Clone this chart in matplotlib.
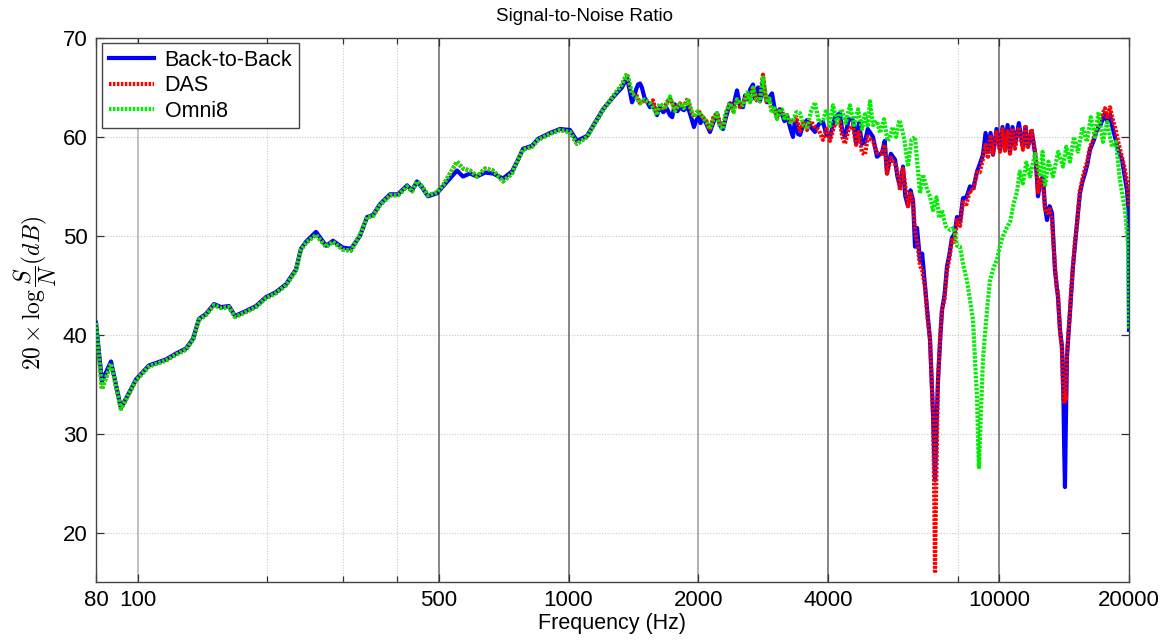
import numpy as np
import matplotlib
matplotlib.use("Agg")
import matplotlib.pyplot as plt

plt.rcParams['font.family'] = ['Liberation Sans', 'DejaVu Sans']
plt.rcParams['mathtext.fontset'] = 'cm'

# ---- low-frequency part (80 Hz - 1.4 kHz), shared frequency grid ----
freq_low = [80, 82.6, 86.7, 91.4, 95.4, 99.1, 106.2, 116.3, 122.7, 129.4, 134.4,
            138.7, 144.0, 150.3, 156.1, 162.9, 168.2, 178.4, 188.1, 198.4, 209.3,
            220.8, 233.0, 239.3, 245.8, 259.3, 273.6, 284.0, 299.6, 312.7, 328.1,
            340.6, 351.6, 365.0, 385.1, 401.9, 421.8, 433.2, 444.9, 456.9, 471.8,
            495.0, 511.2, 550.9, 568.8, 590.6, 613.1, 639.9, 667.8, 704.5, 739.2,
            763.4, 784.0, 822.6, 849.3, 905.7, 955.4, 1007.9, 1046.3, 1103.7,
            1164.4, 1202.3, 1268.2, 1330.7]

snr_low_b2b = [41.2, 35.3, 37.3, 32.6, 34.1, 35.5, 36.9, 37.5, 38.1, 38.6, 39.6,
               41.6, 42.1, 43.1, 42.8, 42.9, 41.9, 42.4, 42.9, 43.8, 44.3,
               45.1, 46.6, 48.7, 49.4, 50.4, 49.0, 49.5, 48.8, 48.7, 50.0,
               51.9, 52.1, 53.2, 54.2, 54.2, 55.1, 54.6, 55.5, 54.9, 54.0,
               54.3, 55.0, 56.6, 56.0, 56.3, 56.0, 56.4, 56.3, 55.8, 56.5,
               57.7, 58.8, 59.1, 59.8, 60.4, 60.8, 60.7, 59.6, 60.1,
               61.8, 62.8, 64.0, 65.0]

snr_low = [41.2, 34.5, 37.1, 32.5, 34.0, 35.4, 36.8, 37.4, 38.0, 38.5, 39.5,
           41.5, 42.0, 43.0, 42.7, 42.8, 41.8, 42.3, 42.8, 43.7, 44.2,
           45.0, 46.5, 48.6, 49.3, 50.1, 48.9, 49.4, 48.6, 48.5, 50.1,
           51.9, 52.0, 53.1, 54.1, 54.1, 55.0, 54.5, 55.5, 55.0, 54.1,
           54.4, 55.1, 57.5, 56.8, 56.6, 56.0, 56.8, 56.6, 55.5, 56.3,
           57.7, 58.7, 59.0, 59.7, 60.3, 60.7, 60.5, 59.3, 60.0,
           61.7, 62.7, 64.1, 65.3]

# ---- Back-to-Back, above 1.35 kHz ----
freq_b2b_high = [1366.8, 1385, 1403.8, 1420, 1435, 1450, 1465.4, 1480, 1500, 1520,
                 1545.6, 1570, 1604.4, 1630.4, 1660, 1690, 1719.7, 1740, 1765, 1790,
                 1813.9, 1850, 1893.2, 1925, 1954.9, 1975, 2000, 2025, 2051.5, 2090,
                 2129.5, 2170, 2211.0, 2245, 2283.0, 2320, 2370.2, 2410, 2460.3, 2500,
                 2540.6, 2570, 2600, 2640, 2680.2, 2705, 2730, 2755, 2782.1, 2805,
                 2827.4, 2860, 2888.6, 2925, 2967.0, 3005, 3047.4, 3090, 3130, 3170,
                 3214.4, 3265, 3319.0, 3350, 3380, 3410, 3445.9, 3510, 3577.1, 3650,
                 3733.6, 3810, 3896.9, 3970, 4045.4, 4150, 4266.6, 4320, 4382.2, 4470,
                 4574.0, 4650, 4720, 4800, 4876.3, 4950, 5090.2, 5200, 5341.2, 5420,
                 5485.8, 5600, 5726.0, 5800, 5881.0, 5976, 6050, 6138, 6220, 6305,
                 6372, 6441, 6545, 6620, 6722, 6800, 6904, 7015, 7091, 7150,
                 7205, 7290, 7361, 7460, 7560, 7650, 7764, 7870, 7974, 8104,
                 8234, 8390, 8549, 8700, 8875, 9000, 9163, 9290, 9411, 9540,
                 9667, 9850, 10036, 10170, 10307, 10450, 10586, 10730, 10873, 11100,
                 11347, 11500, 11655, 11880, 12100, 12200, 12296, 12450, 12628, 12760,
                 12901, 13080, 13250, 13350, 13464, 13580, 13681, 13830, 13977, 14080,
                 14150, 14202, 14280, 14354, 14470, 14586, 14700, 14822, 14980, 15143,
                 15260, 15387, 15600, 15804, 16000, 16234, 16550, 16852, 17200, 17586,
                 17800, 18063, 18300, 18553, 18900, 19262, 19500, 19784, 19950, 20000]
snr_b2b_high = [66.0, 64.8, 63.5, 64.0, 64.8, 65.3, 65.4, 65.0, 64.0, 63.6,
                63.0, 63.3, 62.2, 63.0, 62.5, 62.9, 62.2, 62.0, 63.3, 62.6,
                63.0, 62.7, 63.0, 62.0, 61.0, 61.6, 62.0, 61.4, 62.0, 61.3,
                60.5, 61.5, 62.4, 61.2, 60.8, 62.0, 63.4, 63.0, 64.7, 63.2,
                63.0, 64.2, 63.8, 64.8, 65.3, 63.9, 64.0, 65.0, 63.6, 64.5,
                65.8, 64.3, 63.5, 64.0, 64.4, 63.0, 62.0, 62.8, 62.3, 61.6,
                62.2, 61.0, 60.0, 61.5, 61.5, 60.3, 60.2, 61.3, 61.7, 61.0,
                60.5, 61.3, 61.5, 60.2, 60.0, 62.0, 62.4, 60.6, 60.0, 61.8,
                61.7, 59.4, 61.4, 59.3, 59.5, 60.8, 60.0, 58.0, 58.4, 59.6,
                56.3, 58.3, 57.7, 56.0, 55.0, 57.0, 54.0, 53.0, 54.6, 53.6,
                48.9, 50.8, 47.5, 48.2, 44.9, 42.5, 39.5, 32.0, 25.3, 31.0,
                35.4, 39.5, 42.5, 44.0, 46.9, 48.0, 49.8, 50.2, 51.9, 51.4,
                53.8, 53.9, 55.0, 54.8, 56.5, 57.2, 58.2, 60.4, 58.6, 60.4,
                58.2, 60.8, 58.7, 61.0, 58.8, 61.2, 58.4, 61.0, 59.2, 61.4,
                58.9, 61.0, 59.0, 60.6, 58.4, 56.5, 54.0, 55.5, 56.0, 53.0,
                51.6, 53.0, 52.3, 49.5, 46.5, 45.0, 43.8, 40.5, 38.8, 34.0,
                28.0, 24.6, 32.0, 37.8, 40.0, 42.2, 44.5, 46.9, 49.0, 51.3,
                52.8, 54.3, 55.5, 56.3, 57.2, 58.7, 59.6, 60.7, 61.3, 62.4,
                61.5, 62.3, 61.0, 60.0, 58.6, 57.7, 56.3, 54.6, 52.5, 40.5]

# ---- DAS, above 1.35 kHz ----
freq_das_high = [1366.8, 1385, 1403.8, 1435, 1465.4, 1500, 1545.6, 1570, 1604.4, 1630.4,
                 1660, 1690, 1719.7, 1765, 1813.9, 1850, 1893.2, 1925, 1954.9, 2000,
                 2051.5, 2090, 2129.5, 2170, 2211.0, 2245, 2283.0, 2320, 2370.2, 2410,
                 2460.3, 2500, 2540.6, 2600, 2640, 2680.2, 2730, 2782.1, 2827.4, 2860,
                 2888.6, 2925, 2967.0, 3005, 3047.4, 3090, 3130, 3170, 3214.4, 3265,
                 3319.0, 3380, 3445.9, 3510, 3577.1, 3650, 3733.6, 3810, 3896.9, 3970,
                 4045.4, 4150, 4266.6, 4320, 4382.2, 4470, 4574.0, 4650, 4720, 4800,
                 4876.3, 4950, 5090.2, 5200, 5341.2, 5420, 5485.8, 5600, 5726.0, 5800,
                 5881.0, 5976, 6050, 6138, 6220, 6305, 6372, 6441, 6545, 6620,
                 6722, 6800, 6904, 7015, 7060, 7091, 7130, 7205, 7290, 7361,
                 7460, 7560, 7650, 7764, 7870, 7974, 8104, 8234, 8390, 8549,
                 8700, 8875, 9000, 9163, 9290, 9411, 9540, 9667, 9850, 10036,
                 10170, 10307, 10450, 10586, 10730, 10873, 11100, 11347, 11500, 11655,
                 11880, 12100, 12200, 12296, 12450, 12628, 12760, 12901, 13080, 13250,
                 13350, 13464, 13580, 13681, 13830, 13977, 14080, 14150, 14202, 14280,
                 14354, 14470, 14586, 14700, 14822, 14980, 15143, 15260, 15387, 15600,
                 15804, 16000, 16234, 16550, 16852, 17200, 17586, 17800, 18063, 18300,
                 18553, 18900, 19262, 19500, 19784, 19950, 20000]
snr_das_high = [66.4, 65.2, 64.4, 64.3, 63.4, 63.7, 63.4, 63.7, 62.3, 63.4,
                62.7, 63.5, 63.9, 62.8, 63.4, 63.1, 63.9, 62.6, 62.0, 62.7,
                61.9, 61.6, 60.8, 62.0, 62.4, 61.4, 60.9, 62.4, 63.5, 62.6,
                63.8, 63.0, 63.4, 64.3, 63.6, 65.1, 63.7, 64.0, 66.3, 64.3,
                63.4, 63.7, 62.5, 62.9, 61.9, 62.8, 62.6, 62.0, 62.0, 61.6,
                61.5, 62.0, 60.6, 61.6, 60.7, 61.6, 61.0, 60.7, 59.7, 60.8,
                59.6, 61.3, 61.5, 60.0, 59.3, 60.8, 61.2, 59.2, 60.5, 58.4,
                58.2, 60.0, 59.6, 58.4, 58.3, 59.2, 56.3, 57.9, 57.3, 56.5,
                54.6, 56.8, 55.0, 53.0, 54.3, 53.4, 50.5, 49.5, 47.0, 46.5,
                44.8, 42.0, 39.5, 32.0, 24.0, 15.9, 24.0, 35.4, 40.0, 42.5,
                43.6, 46.5, 47.6, 49.6, 49.4, 51.6, 51.0, 53.4, 53.2, 54.6,
                54.6, 56.4, 56.4, 57.8, 59.2, 58.0, 60.0, 58.3, 60.5, 58.5,
                60.8, 58.6, 60.6, 58.3, 60.9, 58.8, 61.0, 58.7, 61.2, 59.0,
                60.8, 58.6, 57.0, 54.4, 55.9, 55.2, 52.7, 52.3, 52.7, 51.5,
                49.2, 47.0, 44.8, 44.2, 40.3, 38.5, 33.5, 33.0, 34.0, 33.5,
                38.0, 40.2, 42.5, 45.0, 47.0, 49.5, 51.0, 53.0, 54.6, 55.8,
                56.8, 57.5, 59.0, 59.8, 60.9, 61.8, 62.9, 61.8, 63.0, 61.9,
                61.0, 59.4, 58.0, 57.0, 55.5, 54.0, 53.0]

# ---- Omni8, above 1.35 kHz ----
freq_omni_high = [1366.8, 1385, 1403.8, 1435, 1465.4, 1500, 1545.6, 1570, 1604.4, 1630.4,
                  1670, 1719.7, 1765, 1813.9, 1850, 1893.2, 1925, 1954.9, 2000, 2051.5,
                  2090, 2129.5, 2170, 2211.0, 2245, 2283.0, 2320, 2370.2, 2420, 2460.3,
                  2540.6, 2600, 2640, 2680.2, 2730, 2782.1, 2827.4, 2888.6, 2925, 2967.0,
                  3005, 3047.4, 3090, 3130, 3170, 3214.4, 3265, 3319.0, 3380, 3445.9,
                  3510, 3577.1, 3650, 3733.6, 3810, 3896.9, 3970, 4045.4, 4110.7, 4200,
                  4300, 4400, 4500.8, 4600, 4700, 4800, 4876.3, 4950, 5009, 5090,
                  5200, 5284.6, 5400, 5500, 5575, 5650, 5760, 5860, 5944, 6030,
                  6138, 6250, 6372, 6450, 6545, 6650, 6794, 6900, 7015, 7150,
                  7250, 7361, 7500, 7683, 7850, 7974, 8104, 8250, 8410, 8550,
                  8687, 8780, 8875, 8930, 8969, 9050, 9163, 9300, 9411, 9513,
                  9700, 9876, 10036, 10198, 10400, 10586, 10800, 10990, 11150, 11347,
                  11550, 11780, 12100, 12428, 12600, 12764, 13000, 13321, 13700, 14051,
                  14300, 14586, 14900, 15224, 15600, 15975, 16300, 16673, 17000, 17399,
                  17800, 18257, 18650, 19057, 19300, 19573, 19784, 19900, 20000]
snr_omni_high = [66.4, 65.5, 64.4, 64.0, 63.4, 63.8, 63.4, 63.0, 62.2, 63.4,
                 62.8, 64.1, 62.6, 63.4, 62.9, 63.7, 62.8, 62.05, 62.6, 62.0,
                 61.5, 60.8, 61.8, 62.4, 61.0, 60.8, 62.5, 63.4, 62.5, 63.8,
                 63.2, 64.5, 63.5, 65.0, 63.8, 63.6, 66.0, 63.5, 63.9, 62.4,
                 62.9, 61.8, 62.6, 62.8, 61.9, 62.2, 61.5, 61.7, 62.5, 62.4,
                 61.2, 60.8, 62.5, 63.5, 61.5, 61.7, 62.8, 61.1, 63.2, 61.4,
                 62.8, 61.4, 63.2, 61.2, 62.8, 60.8, 62.3, 61.0, 63.6, 61.2,
                 61.6, 60.4, 61.8, 59.6, 59.9, 61.0, 60.0, 61.7, 60.8, 59.5,
                 57.0, 59.7, 60.0, 57.3, 54.3, 56.2, 54.7, 54.0, 52.6, 53.9,
                 51.8, 52.6, 51.0, 50.6, 50.8, 49.0, 48.9, 47.0, 45.5, 43.5,
                 41.5, 37.5, 33.7, 29.0, 26.6, 31.5, 37.5, 41.0, 43.5, 45.5,
                 46.8, 47.6, 49.0, 50.0, 50.8, 51.4, 53.3, 54.4, 56.5, 55.3,
                 57.4, 56.0, 58.3, 56.0, 58.5, 55.0, 57.5, 56.0, 58.5, 57.0,
                 59.0, 57.5, 60.0, 58.5, 61.0, 59.5, 62.0, 60.0, 62.5, 59.5,
                 61.5, 59.0, 59.5, 55.6, 54.2, 52.6, 50.3, 49.0, 40.5]

freq_b2b = freq_low + freq_b2b_high
snr_b2b = snr_low_b2b + snr_b2b_high
freq_das = freq_low + freq_das_high
snr_das = snr_low + snr_das_high
freq_omni = freq_low + freq_omni_high
snr_omni = snr_low + snr_omni_high

xtick_vals = [80, 100, 500, 1000, 2000, 4000, 10000, 20000]
xtick_labels = ['80', '100', '500', '1000', '2000', '4000', '10000', '20000']
ytick_vals = [20, 30, 40, 50, 60, 70]

fig = plt.figure(figsize=(11.69, 6.40), dpi=100)
ax = fig.add_axes([0.0821, 0.0906, 0.8837, 0.8500])

# grid: dotted horizontals, solid verticals at the labelled decades, dotted minors
for y in [20, 30, 40, 50, 60]:
    ax.axhline(y, color='#c8c8c8', lw=0.8, ls=(0, (1, 1.5)), zorder=0)
for xv, col in [(100, '#b0b0b0'), (500, '#666666'), (1000, '#666666'),
                (2000, '#9a9a9a'), (4000, '#666666'), (10000, '#666666')]:
    ax.axvline(xv, color=col, lw=1.1, zorder=0)
for xv in [200, 300, 400, 8000]:
    ax.axvline(xv, color='#c8c8c8', lw=0.8, ls=(0, (1, 1.5)), zorder=0)

ax.plot(freq_b2b, snr_b2b, color='#0000ff', lw=3.0, label='Back-to-Back', zorder=3)
ax.plot(freq_das, snr_das, color='#ff0000', lw=3.0, ls=(0, (0.6, 0.35)),
        label='DAS', zorder=4)
ax.plot(freq_omni, snr_omni, color='#00ee00', lw=3.0, ls=(0, (0.6, 0.35)),
        label='Omni8', zorder=5)

ax.set_xscale('log')
ax.set_xlim(80, 20000)
ax.set_ylim(15, 70)
ax.set_xticks(xtick_vals)
ax.set_xticklabels(xtick_labels)
ax.xaxis.set_minor_locator(matplotlib.ticker.FixedLocator([200, 300, 400, 8000]))
ax.xaxis.set_minor_formatter(matplotlib.ticker.NullFormatter())
ax.set_yticks(ytick_vals)
ax.tick_params(axis='both', which='both', direction='in', top=True, right=True,
               labelsize=16, length=6, width=0.9, color='#333333', pad=6)
ax.tick_params(axis='x', which='minor', length=4)

for s in ax.spines.values():
    s.set_color('#444444')
    s.set_linewidth(1.0)

ax.set_title('Signal-to-Noise Ratio', fontsize=13.5, pad=12, x=0.473)
ax.set_xlabel('Frequency (Hz)', fontsize=15.5, labelpad=1)
ax.set_ylabel(r'$20\times\log\dfrac{S}{N}(dB)$', fontsize=17)
ax.yaxis.set_label_coords(-0.036, 0.531)

leg = ax.legend(loc='upper left', bbox_to_anchor=(0.006, 0.99), borderaxespad=0,
                fontsize=15.5, fancybox=False, edgecolor='#444444', framealpha=1,
                handlelength=2.1, handletextpad=0.5, borderpad=0.3, labelspacing=0.2)
leg.get_frame().set_linewidth(1.0)

fig.savefig('out.png', dpi=100)
